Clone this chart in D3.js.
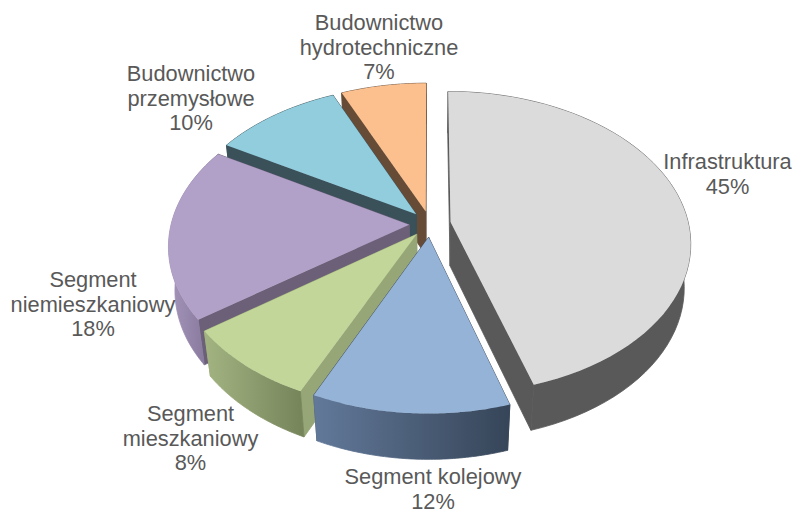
<!DOCTYPE html>
<html>
<head>
<meta charset="utf-8">
<script src="https://cdn.jsdelivr.net/npm/d3@7"></script>
<style>
html,body{margin:0;padding:0;background:#fff;overflow:hidden}
svg{display:block}
text{font-family:"Liberation Sans",Arial,sans-serif;font-size:21.8px;fill:#595959;text-anchor:middle}
</style>
</head>
<body>
<svg id="chart" width="792" height="509"></svg>
<script>
const categories = ["Infrastruktura","Segment kolejowy","Segment\nmieszkaniowy","Segment\nniemieszkaniowy","Budownictwo\nprzemysłowe","Budownictwo\nhydrotechniczne"];
const values = [45.25,11.6,8.14,18.45,9.96,6.6];
const topColors = ["#DBDBDB","#95B3D7","#C2D69A","#B1A0C7","#92CDDE","#FBC08E"];
const cutColors = ["#595959","#3A485C","#97A677","#6C6078","#3A515A","#664B36"];
const wallLeft  = ["#595959","#62799A","#A3B482","#A595BB","#3A515A","#664B36"];
const wallRight = ["#595959","#364558","#77855B","#7E7193","#3A515A","#664B36"];
const labelX = [727.5,433,190.5,93,191,379];
const labelY = [169,484,421,287,81,30];

const W=792,H=509;
const cx=430, cy=224, rx=238, ry=148.7, k=0.135, m=0.025, h=45, explode=0.0875, lineH=24.6;
const svg=d3.select("#chart");
const defs=svg.append("defs");
const sx=d3.scaleLinear().domain([-1,1]).range([cx-rx,cx+rx]);
const sy=d3.scaleLinear().domain([-1,1]).range([cy+ry,cy-ry]);

function project(u,v,z){
  const d=1+k*v+m*z;
  return [sx(u/d), sy(v/d)+h*z/d];
}
const pie=d3.pie().sort(null).value(d=>d)(values);
const slices=pie.map((p,i)=>{
  const mid=(p.startAngle+p.endAngle)/2;
  return {i,a0:p.startAngle,a1:p.endAngle,
    ou:explode*Math.sin(mid),ov:explode*Math.cos(mid)};
}).sort((a,b)=>b.ov-a.ov);

const line=d3.line();
slices.forEach(s=>{
  const g=svg.append("g");
  const arc=d3.range(0,61).map(j=>s.a0+(s.a1-s.a0)*j/60);
  const pt=(a,z)=>project(s.ou+Math.sin(a),s.ov+Math.cos(a),z);
  const apex=z=>project(s.ou,s.ov,z);
  const topRim=arc.map(a=>pt(a,0));
  const botRim=arc.map(a=>pt(a,1)).reverse();
  const id="wall"+s.i;
  const xs=topRim.map(p=>p[0]);
  const grad=defs.append("linearGradient").attr("id",id).attr("gradientUnits","userSpaceOnUse")
    .attr("x1",d3.min(xs)).attr("x2",d3.max(xs)).attr("y1",0).attr("y2",0);
  grad.append("stop").attr("offset",0).attr("stop-color",wallLeft[s.i]);
  grad.append("stop").attr("offset",1).attr("stop-color",wallRight[s.i]);
  [s.a0,s.a1].forEach(a=>{
    g.append("path").attr("fill",cutColors[s.i]).attr("stroke",cutColors[s.i]).attr("stroke-width",0.8)
     .attr("d",line([apex(0),pt(a,0),pt(a,1),apex(1)])+"Z");
  });
  g.append("path").attr("fill",`url(#${id})`).attr("stroke",`url(#${id})`).attr("stroke-width",0.8)
   .attr("d",line(topRim.concat(botRim))+"Z");
  g.append("path").attr("fill",topColors[s.i])
   .attr("d",line([apex(0)].concat(topRim))+"Z");
});

const lg=svg.append("g");
categories.forEach((c,i)=>{
  const lines=c.split("\n").concat(Math.round(values[i])+"%");
  const t=lg.append("text").attr("x",labelX[i]).attr("y",labelY[i]);
  lines.forEach((l,j)=>t.append("tspan").attr("x",labelX[i]).attr("y",labelY[i]+j*lineH).text(l));
});
</script>
</body>
</html>
